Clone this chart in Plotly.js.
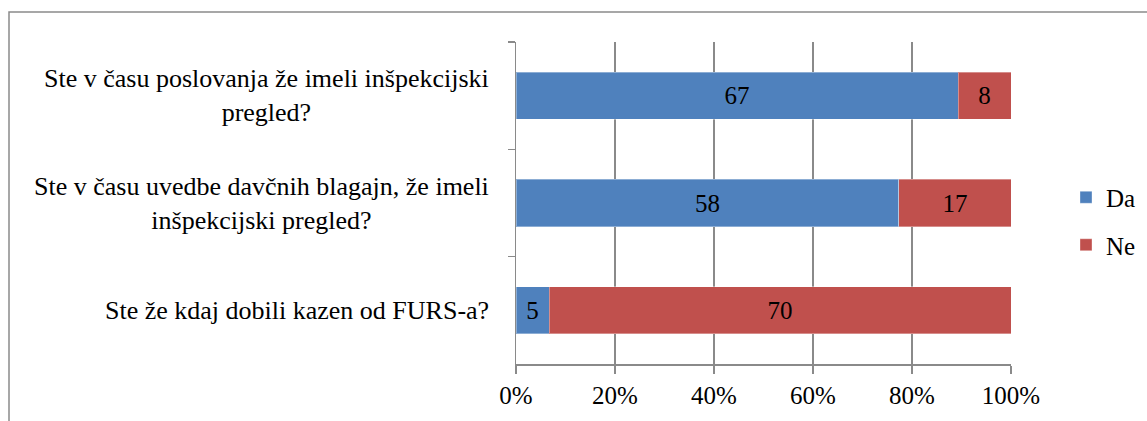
<!DOCTYPE html>
<html>
<head>
<meta charset="utf-8">
<script src="https://cdn.plot.ly/plotly-3.0.1.min.js"></script>
<style>
  html, body { margin: 0; padding: 0; background: #fff; }
  #chart { width: 1147px; height: 421px; }
</style>
</head>
<body>
<div id="chart"></div>
<script>
const categories = [
  "Ste v času poslovanja že imeli inšpekcijski<br>pregled?",
  "Ste v času uvedbe davčnih blagajn, že imeli<br>inšpekcijski pregled?",
  "Ste že kdaj dobili kazen od FURS-a?"
];
const daValues = [67, 58, 5];
const neValues = [8, 17, 70];
const seriesNames = ["Da", "Ne"];
const xTickVals = [0, 20, 40, 60, 80, 100];
const xTickText = ["0%", "20%", "40%", "60%", "80%", "100%"];

const FONT = "'Liberation Serif', 'Times New Roman', serif";
const GRAY = "#8a8a8a";

const common = {
  type: "bar",
  orientation: "h",
  y: categories,
  textposition: "inside",
  insidetextanchor: "middle",
  textangle: 0,
  constraintext: "none",
  insidetextfont: { family: FONT, size: 25, color: "#000" },
  hoverinfo: "none"
};

const traces = [
  Object.assign({}, common, {
    name: seriesNames[0],
    x: daValues,
    text: daValues.map(String),
    texttemplate: "%{text}",
    marker: { color: "#4F81BD", line: { color: "rgba(255,255,255,0.35)", width: 1 } },
    legendgroup: "g1"
  }),
  Object.assign({}, common, {
    name: seriesNames[1],
    x: neValues,
    text: neValues.map(String),
    texttemplate: "%{text}",
    marker: { color: "#C0504D", line: { color: "rgba(255,255,255,0.35)", width: 1 } },
    legendgroup: "g2"
  })
];

const L = 516, R = 1011, T = 42, B = 364;
const pw = R - L, ph = B - T;
const px2x = p => (p - L) / pw;
const py2y = p => (B - p) / ph;

const annotations = categories.map(c => ({
  xref: "paper", yref: "y",
  x: 0, y: c,
  xanchor: "right", yanchor: "middle",
  xshift: -25,
  align: "center",
  showarrow: false,
  text: c,
  font: { family: FONT, size: 26, color: "#000" }
}));

const layout = {
  width: 1147,
  height: 421,
  margin: { l: L, r: 1147 - R, t: T, b: 421 - B, pad: 0, autoexpand: false },
  paper_bgcolor: "#fff",
  plot_bgcolor: "#fff",
  barmode: "stack",
  barnorm: "percent",
  bargap: 0.56,
  font: { family: FONT, size: 25, color: "#000" },
  showlegend: true,
  legend: {
    x: px2x(1066), y: py2y(221),
    xanchor: "left", yanchor: "middle",
    traceorder: "grouped",
    tracegroupgap: 12,
    font: { family: FONT, size: 25, color: "#000" },
    bgcolor: "rgba(0,0,0,0)"
  },
  xaxis: {
    range: [0, 100],
    tickvals: xTickVals,
    ticktext: xTickText,
    showgrid: true,
    gridcolor: GRAY,
    gridwidth: 1.5,
    showline: true,
    linecolor: GRAY,
    linewidth: 1.5,
    ticks: "outside",
    ticklen: 8,
    tickwidth: 1.5,
    tickcolor: GRAY,
    zeroline: false,
    fixedrange: true,
    tickfont: { family: FONT, size: 25, color: "#000" }
  },
  yaxis: {
    type: "category",
    autorange: "reversed",
    showgrid: false,
    showline: true,
    linecolor: GRAY,
    linewidth: 1.5,
    ticks: "outside",
    tickson: "boundaries",
    ticklen: 7,
    tickwidth: 1.5,
    tickcolor: GRAY,
    showticklabels: false,
    zeroline: false,
    fixedrange: true
  },
  annotations: annotations,
  shapes: [{
    type: "rect",
    xref: "paper", yref: "paper",
    x0: px2x(9), x1: px2x(1152),
    y0: py2y(430), y1: py2y(12),
    line: { color: GRAY, width: 1.5 },
    fillcolor: "rgba(0,0,0,0)",
    layer: "below"
  }]
};

Plotly.newPlot("chart", traces, layout, { displayModeBar: false, staticPlot: true });
</script>
</body>
</html>
